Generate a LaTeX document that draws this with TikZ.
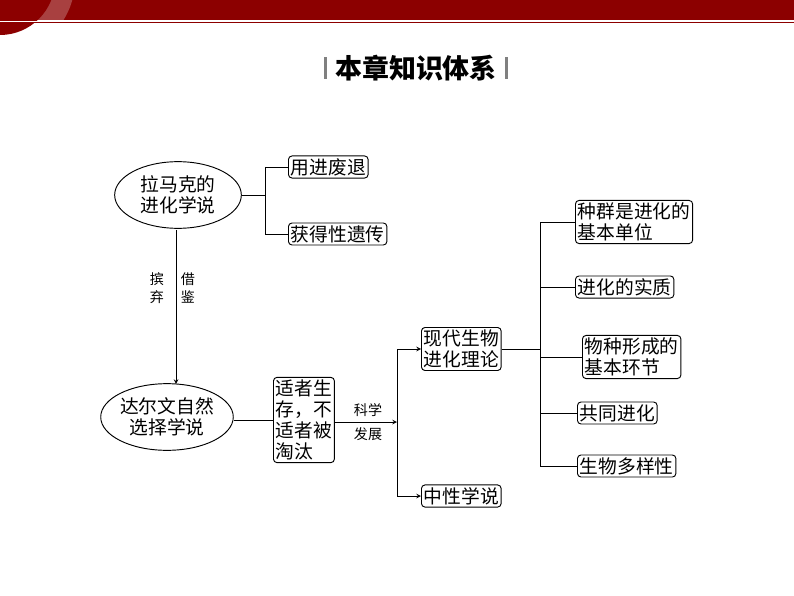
\documentclass[tikz,border=0pt]{standalone}
\usepackage{fontspec}
\setmainfont{Noto Sans CJK SC}
\usetikzlibrary{shapes.geometric}
\definecolor{bandred}{RGB}{140,0,0}
\tikzset{
  box/.style={draw,rounded corners=3pt,align=left,inner sep=2pt,font=\fontsize{16}{18}\selectfont},
  oval/.style={draw,ellipse,align=center,inner sep=0pt,minimum width=3.8cm,minimum height=2cm,font=\fontsize{16}{18}\selectfont},
  lab/.style={font=\fontsize{12}{15}\selectfont,align=center}
}
\begin{document}
\begin{tikzpicture}[x=0.03cm,y=-0.03cm,>=stealth,thick]
        \useasboundingbox (0,0) rectangle (794,596);
        % banner
        \fill[bandred] (0,0) rectangle (794,20);
        \fill[white,opacity=.25] (0,-20) circle (75);
        \fill[bandred] (0,-20) circle (55);
        \draw[white,thin] (0,21) -- (794,21);
        \draw[bandred,thin] (0,22.5) -- (794,22.5);
        % title
        \node (title) at (416,68) {\fontsize{23}{26}\selectfont\bfseries 本章知识体系};
        \fill[gray] ([xshift=-6pt]title.west) ++(0,-11) rectangle ++(3,22);
        \fill[gray] ([xshift=3pt]title.east) ++(0,-11) rectangle ++(3,22);
        % left part
        \node[oval] (lamarck) at (178,195) {拉马克的\\进化学说};
        \node[box,anchor=west] (use) at (288,167) {用进废退};
        \node[box,anchor=west] (acq) at (288,234) {获得性遗传};
        \node[oval,minimum width=3.9cm] (darwin) at (167,417) {达尔文自然\\选择学说};
        \node[box,anchor=west] (fit) at (273,420) {适者生\\存，不\\适者被\\淘汰};
        \node[lab] (abandon) at (157,288) {摈\\弃};
        \node[lab] (borrow) at (188,288) {借\\鉴};
        \node[lab] (sci) at (368,422) {科学\\[5pt]发展};
        \coordinate (b1) at (265,195);
        \draw (lamarck.east) -- (b1);
        \draw (use.west -| b1) -- (acq.west -| b1);
        \draw (use.west -| b1) -- (use.west);
        \draw (acq.west -| b1) -- (acq.west);
        \draw[->] (176,230) -- (176,384);
        \draw (darwin.east |- fit.west) -- (fit.west);
        % middle
        \node[box,anchor=west] (modern) at (421,349) {现代生物\\进化理论};
        \node[box,anchor=west] (neutral) at (421,496) {中性学说};
        \coordinate (b2) at (397,422);
        \draw[->] (fit.east |- b2) -- (b2);
        \draw (modern.west -| b2) -- (neutral.west -| b2);
        \draw[->] (modern.west -| b2) -- (modern.west);
        \draw[->] (neutral.west -| b2) -- (neutral.west);
        % right part
        \node[box,anchor=west] (pop) at (575,222) {种群是进化的\\基本单位};
        \node[box,anchor=west] (essence) at (575,287) {进化的实质};
        \node[box,anchor=west] (species) at (582,357) {物种形成的\\基本环节};
        \node[box,anchor=west] (coevo) at (577,413) {共同进化};
        \node[box,anchor=west] (divers) at (577,466) {生物多样性};
        \coordinate (b3) at (540,349);
        \draw (modern.east) -- (b3);
        \draw (pop.west -| b3) -- (divers.west -| b3);
        \foreach \n in {pop,essence,species,coevo,divers}
          \draw (\n.west -| b3) -- (\n.west);
    \end{tikzpicture}
\end{document}
